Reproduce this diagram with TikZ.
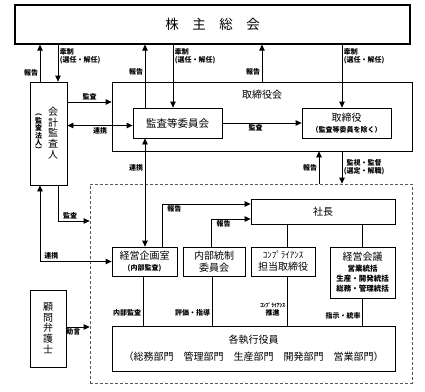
\documentclass[tikz,border=0pt]{standalone}
\usepackage{fontspec}
\setmainfont{Noto Sans CJK JP}
\usetikzlibrary{arrows.meta,positioning,calc}
\newcommand{\lblsize}{\fontsize{7}{8}\selectfont}
\newcommand{\boxsize}{\fontsize{10}{12}\selectfont}
\newcommand{\subsize}{\fontsize{7.5}{10}\selectfont\bfseries}
\tikzset{
  box/.style={rectangle,draw,line width=0.8pt,inner sep=0pt,align=center,font=\boxsize},
  vtxt/.style={inner sep=0pt,align=center,font=\fontsize{10}{10.8}\selectfont},
  lbl/.style={font=\lblsize\bfseries,inner sep=1.5pt},
  arr/.style={-{Triangle[length=6pt,width=5.5pt]},line width=0.8pt},
  darr/.style={{Triangle[length=6pt,width=5.5pt]}-{Triangle[length=6pt,width=5.5pt]},line width=0.8pt},
  ln/.style={line width=0.8pt},
}

\begin{document}
\begin{tikzpicture}[x=1pt,y=-1pt]
  \useasboundingbox (0,0) rectangle (425,391);
  % boxes
  \node[box,line width=1.2pt,minimum width=395pt,minimum height=39pt,font=\fontsize{13.5}{15}\selectfont] (gm) at (212.5,24.5) {株　主　総　会};
  \node[box,minimum width=37pt,minimum height=103pt] (aud) at (48.5,133.5) {};
  \node[vtxt] (audt) at (53,133) {会\\計\\監\\査\\人};
  \node[vtxt,font=\fontsize{7}{7.4}\selectfont\bfseries] (audf) at (38.5,133.5) {︵\\監\\査\\法\\人\\︶};
  \node[box,minimum width=300pt,minimum height=69pt] (board) at (262,116.5) {};
  \node[font=\boxsize] (boardt) at (262,95) {取締役会};
  \node[box,minimum width=89pt,minimum height=30pt,font=\fontsize{10.5}{12}\selectfont] (ac) at (177.5,123) {監査等委員会};
  \node[box,minimum width=89pt,minimum height=30pt] (dir) at (346.5,123) {取締役\\[-1pt]\lblsize\bfseries（監査等委員を除く）};
  \node[draw=black!65,line width=0.7pt,dash pattern=on 3pt off 2pt,inner sep=0pt,minimum width=322pt,minimum height=199pt] (exec) at (251,283.5) {};
  \node[box,minimum width=144pt,minimum height=25pt] (pres) at (323,211.5) {社長};
  \node[box,minimum width=65pt,minimum height=29pt] (plan) at (144.5,261.5) {経営企画室\\[-1pt]\lblsize\bfseries(内部監査)};
  \node[box,minimum width=62pt,minimum height=29pt] (icc) at (214,261.5) {内部統制\\委員会};
  \node[box,minimum width=64pt,minimum height=29pt] (comp) at (283,261.5) {{\fontsize{9}{11}\selectfont ｺﾝﾌﾟﾗｲｱﾝｽ}\\担当取締役};
  \node[box,minimum width=65pt,minimum height=51pt] (mc) at (362.5,272.5) {経営会議\\[-1pt]\subsize 営業統括\\[-2pt]\subsize 生産・開発統括\\[-2pt]\subsize 総務・管理統括};
  \node[box,minimum width=283pt,minimum height=45pt] (exe) at (253.5,348.5) {各執行役員\\[5pt]（総務部門　管理部門　生産部門　開発部門　営業部門）};
  \node[box,minimum width=36pt,minimum height=77pt] (law) at (48,328.5) {};
  \node[vtxt] (lawt) at (48,328) {顧\\問\\弁\\護\\士};
  % shareholders <-> boards
  \draw[arr] ([xshift=-8.5pt]aud.north) -- ([xshift=-8.5pt]aud.north |- gm.south) node[lbl,left,pos=0.25] {報告};
  \draw[arr] ([xshift=9.5pt]aud.north |- gm.south) -- ([xshift=9.5pt]aud.north) node[lbl,right,pos=0.32,align=left] {牽制\\(選任・解任)};
  \draw[arr] ([xshift=-32.5pt]ac.north) -- ([xshift=-32.5pt]ac.north |- gm.south) node[lbl,left,pos=0.56] {報告};
  \draw[arr] ([xshift=-4.5pt]ac.north |- gm.south) -- ([xshift=-4.5pt]ac.north) node[lbl,right,pos=0.19,align=left] {牽制\\(選任・解任)};
  \draw[arr] (board.north) -- (board.north |- gm.south) node[lbl,left,pos=0.26] {報告};
  \draw[arr] ([xshift=-4.5pt]dir.north |- gm.south) -- ([xshift=-4.5pt]dir.north) node[lbl,right,pos=0.19,align=left] {牽制\\(選任・解任)};
  % auditor and board
  \draw[arr] ([yshift=31.5pt]aud.east) -- ([yshift=31.5pt]aud.east -| board.west) node[lbl,above,midway] {監査};
  \draw[darr] ([yshift=-2.5pt]ac.west -| aud.east) -- ([yshift=-2.5pt]ac.west) node[lbl,below,midway] {連携};
  \draw[arr] (ac.east) -- (dir.west) node[lbl,below,pos=0.42] {監査};
  \draw[arr] ([xshift=80pt]board.south) -- ([xshift=80pt]board.south |- exec.north) node[lbl,right,pos=0.48,align=center] {監視・監督\\(選定・解職)};
  \draw[arr] ([xshift=-4pt]pres.north |- exec.north) -- ([xshift=-4pt]pres.north |- board.south) node[lbl,left,pos=0.5] {報告};
  \draw[darr] ([xshift=-32.5pt]ac.south) -- ([xshift=-32.5pt]ac.south |- plan.north) node[lbl,left,pos=0.275] {連携};
  \draw[darr] ([xshift=-8.5pt]aud.south) |- (plan.west) node[lbl,above,pos=0.58] {連携};
  \draw[arr] ([xshift=9.5pt]aud.south) |- ([yshift=62.5pt]exec.west) node[lbl,above,pos=0.69] {監査};
  % executive side
  \draw[arr] ([xshift=17.5pt]plan.north) |- ([yshift=7.5pt]pres.west) node[lbl,below,pos=0.57] {報告};
  \draw[arr] ([xshift=-3pt]icc.north) |- ([yshift=-7.5pt]pres.west) node[lbl,below,pos=0.66] {報告};
  \draw[ln] ([xshift=4pt]comp.north |- pres.south) -- ([xshift=4pt]comp.north);
  \draw[ln] (mc.north |- pres.south) -- (mc.north);
  \draw[ln] ([xshift=-1.5pt]plan.south) -- ([xshift=-1.5pt]plan.south |- exe.north) node[lbl,left,pos=0.74] {内部監査};
  \draw[ln] ([xshift=-2pt]icc.south) -- ([xshift=-2pt]icc.south |- exe.north) node[lbl,left,pos=0.74] {評価・指導};
  \draw[ln] ([xshift=4pt]comp.south) -- ([xshift=4pt]comp.south |- exe.north) node[lbl,left,pos=0.68,align=center] {{\fontsize{5.5}{6.5}\selectfont ｺﾝﾌﾟﾗｲｱﾝｽ}\\推進};
  \draw[ln] (mc.south) -- (mc.south |- exe.north) node[lbl,left,pos=0.64] {指示・統率};
  \draw[arr] ([yshift=1.5pt]law.east) -- ([yshift=1.5pt]law.east -| exec.west) node[lbl,below,pos=0.3] {助言};
\end{tikzpicture}
\end{document}
